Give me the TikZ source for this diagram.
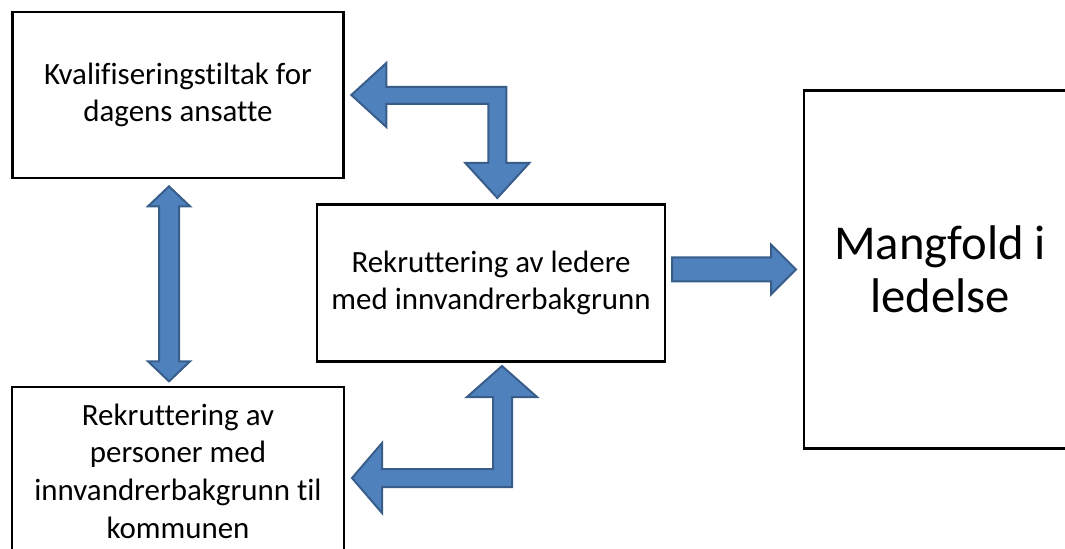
\documentclass[tikz,border=0pt]{standalone}
\usepackage{fontspec}
\setmainfont{Carlito}[Ligatures=NoCommon]
\usetikzlibrary{positioning}
\definecolor{arrowfill}{HTML}{4F81BD}
\definecolor{arrowedge}{HTML}{385D8A}
\tikzset{
  textbox/.style={draw, line width=2pt, align=center, inner sep=0pt,
    font=\fontsize{23.2}{28.2}\selectfont},
  bigbox/.style={textbox, font=\fontsize{36.5}{39.5}\selectfont},
  blockarrow/.style={fill=arrowfill, draw=arrowedge, line width=1.5pt, line join=miter}
}
\begin{document}
\begin{tikzpicture}[x=0.75pt, y=-0.75pt]
    \useasboundingbox (0,0) rectangle (1065,549);
    \clip (0,0) rectangle (1065,549);
    \node[textbox, minimum width=248pt, minimum height=124.5pt] (kval) at (178,95)
      {Kvalifiseringstiltak for\\dagens ansatte};
    \node[textbox, minimum width=261pt, minimum height=118pt] (ledere) at (491,283)
      {Rekruttering av ledere\\med innvandrerbakgrunn};
    \node[textbox, minimum width=249pt, minimum height=126pt] (personer) at (178,471)
      {Rekruttering av\\personer med\\innvandrerbakgrunn til\\kommunen};
    \node[bigbox, minimum width=204pt, minimum height=268pt] (mangfold) at (940,269.5)
      {Mangfold i\\ledelse};
    % kval <-> ledere
    \draw[blockarrow] ([xshift=5pt]kval.east) -- ++(35,-32) -- ++(0,24) -- ++(120,0)
      -- ++(0,76) -- ++(23,0) -- ++(-32,35) -- ++(-32,-35) -- ++(23,0) -- ++(0,-59)
      -- ++(-102,0) -- ++(0,23) -- cycle;
    % ledere <-> personer
    \draw[blockarrow] ([shift={(11,3)}]ledere.south) -- ++(35,31) -- ++(-25,0) -- ++(0,90)
      -- ++(-130,0) -- ++(0,26) -- ++(-30,-35) -- ++(30,-35) -- ++(0,26) -- ++(111,0)
      -- ++(0,-72) -- ++(-26,0) -- cycle;
    % kval <-> personer
    \draw[blockarrow] ([shift={(-9,7)}]kval.south) -- ++(21,20) -- ++(-11,0) -- ++(0,155)
      -- ++(11,0) -- ++(-21,20) -- ++(-21,-20) -- ++(11,0) -- ++(0,-155) -- ++(-11,0) -- cycle;
    % ledere -> mangfold
    \draw[blockarrow] ([xshift=-5pt]mangfold.west) -- ++(-25,-25) -- ++(0,13) -- ++(-99,0)
      -- ++(0,24) -- ++(99,0) -- ++(0,13) -- cycle;
\end{tikzpicture}
\end{document}
